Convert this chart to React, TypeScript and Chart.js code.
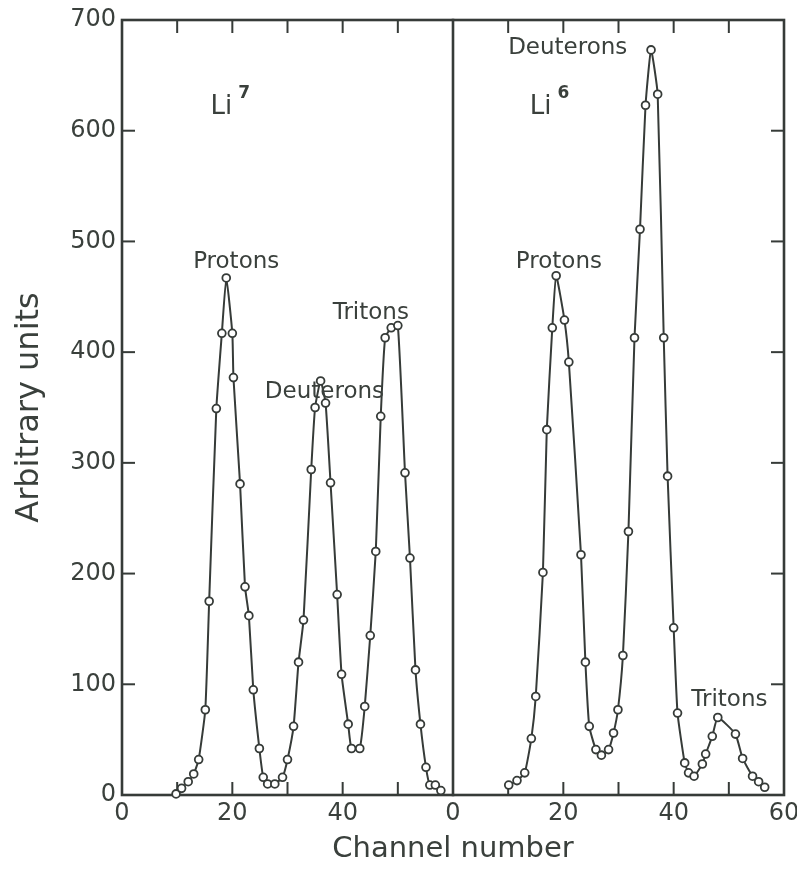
import React, { useEffect, useRef } from 'react';
import { Chart, registerables } from 'chart.js';

Chart.register(...registerables);

// ---- data ----
const PANEL_WIDTH = 60; // each panel spans channels 0..60

const li7Channels = [9.8, 10.8, 12.0, 13.0, 13.9, 15.1, 15.8, 17.1, 18.1, 18.9, 20.0, 20.2, 21.4, 22.3, 23.0, 23.8, 24.9, 25.6, 26.4, 27.7, 29.1, 30.0, 31.1, 32.0, 32.9, 34.3, 35.0, 36.0, 36.9, 37.8, 39.0, 39.8, 41.0, 41.6, 43.1, 44.0, 45.0, 46.0, 46.9, 47.7, 48.8, 50.0, 51.3, 52.2, 53.2, 54.1, 55.1, 55.8, 56.8, 57.8];
const li7Counts = [1, 6, 12, 19, 32, 77, 175, 349, 417, 467, 417, 377, 281, 188, 162, 95, 42, 16, 10, 10, 16, 32, 62, 120, 158, 294, 350, 374, 354, 282, 181, 109, 64, 42, 42, 80, 144, 220, 342, 413, 422, 424, 291, 214, 113, 64, 25, 9, 9, 4];

const li6Channels = [10.1, 11.6, 13.0, 14.2, 15.0, 16.3, 17.0, 18.0, 18.7, 20.2, 21.0, 23.2, 24.0, 24.7, 25.9, 26.9, 28.2, 29.1, 29.9, 30.8, 31.8, 32.9, 33.9, 34.9, 35.9, 37.1, 38.2, 38.9, 40.0, 40.7, 42.0, 42.7, 43.7, 45.2, 45.8, 47.0, 48.0, 51.2, 52.5, 54.3, 55.4, 56.5];
const li6Counts = [9, 13, 20, 51, 89, 201, 330, 422, 469, 429, 391, 217, 120, 62, 41, 36, 41, 56, 77, 126, 238, 413, 511, 623, 673, 633, 413, 288, 151, 74, 29, 20, 17, 28, 37, 53, 70, 55, 33, 17, 12, 7];

const channelTicks = [0, 10, 20, 30, 40, 50, 60];
const channelTickLabels = ['0', '', '20', '', '40', '', '60'];
const countTicks = [0, 100, 200, 300, 400, 500, 600, 700];

const peakLabels = ['Protons', 'Deuterons', 'Tritons', 'Deuterons', 'Protons', 'Tritons'];
const peakLabelX = [20.7, 36.7, 45.1, 80.8, 79.2, 110.1];
const peakLabelY = [481, 364, 435, 675, 481, 86];

const isotopeSymbols = ['Li', 'Li'];
const isotopeMasses = ['7', '6'];
const isotopeX = [18.0, 75.9];
const isotopeY = [621, 621];

const xTitle = 'Channel number';
const yTitle = 'Arbitrary units';

// ---- styles ----
const INK = '#363b38';
const TEXT = '#3a403c';
const FONT = '"DejaVu Sans", "Liberation Sans", sans-serif';
const TICK_LEN = 13;

const decorPlugin = {
  id: 'decor',
  beforeDatasetsDraw(chart: any) {
    const { ctx, chartArea: a, scales } = chart;
    const x = scales.x;
    const y = scales.y;
    const line = (x1: number, y1: number, x2: number, y2: number) => {
      ctx.beginPath();
      ctx.moveTo(x1, y1);
      ctx.lineTo(x2, y2);
      ctx.stroke();
    };
    ctx.save();
    ctx.strokeStyle = INK;
    ctx.lineCap = 'square';
    ctx.lineWidth = 2.6;
    ctx.strokeRect(a.left, a.top, a.right - a.left, a.bottom - a.top);
    const xm = x.getPixelForValue(PANEL_WIDTH);
    line(xm, a.top, xm, a.bottom);
    ctx.lineWidth = 2;
    ctx.lineCap = 'butt';
    [0, PANEL_WIDTH].forEach((off) => {
      channelTicks.slice(1, -1).forEach((v) => {
        const px = x.getPixelForValue(v + off);
        line(px, a.top, px, a.top + TICK_LEN);
        line(px, a.bottom, px, a.bottom - TICK_LEN);
      });
    });
    countTicks.slice(1, -1).forEach((v) => {
      const py = y.getPixelForValue(v);
      line(a.left, py, a.left + TICK_LEN, py);
      line(a.right, py, a.right - TICK_LEN, py);
    });
    ctx.restore();
  },
  afterDatasetsDraw(chart: any) {
    const { ctx, scales } = chart;
    const x = scales.x;
    const y = scales.y;
    ctx.save();
    ctx.fillStyle = TEXT;
    ctx.textAlign = 'center';
    ctx.textBaseline = 'middle';
    ctx.font = `23px ${FONT}`;
    peakLabels.forEach((t, i) => {
      ctx.fillText(t, x.getPixelForValue(peakLabelX[i]), y.getPixelForValue(peakLabelY[i]));
    });
    isotopeSymbols.forEach((s, i) => {
      const cx = x.getPixelForValue(isotopeX[i]);
      const cy = y.getPixelForValue(isotopeY[i]);
      ctx.font = `26px ${FONT}`;
      ctx.textAlign = 'center';
      ctx.fillText(s, cx, cy);
      const w = ctx.measureText(s).width;
      ctx.font = `bold 17px ${FONT}`;
      ctx.textAlign = 'left';
      ctx.fillText(isotopeMasses[i], cx + w / 2 + 6, cy - 14);
    });
    ctx.restore();
  },
};

export default function App() {
  const canvasRef = useRef<HTMLCanvasElement | null>(null);

  useEffect(() => {
    document.body.style.margin = '0';
    document.body.style.background = '#ffffff';
    const canvas = canvasRef.current;
    if (!canvas) return;

    const li7Data = li7Channels.map((c, i) => ({ x: c, y: li7Counts[i] }));
    const li6Data = li6Channels.map((c, i) => ({ x: c + PANEL_WIDTH, y: li6Counts[i] }));

    const common = {
      borderColor: INK,
      borderWidth: 2,
      pointRadius: 3.9,
      pointBorderWidth: 1.8,
      pointBackgroundColor: '#ffffff',
      pointBorderColor: INK,
      tension: 0.15,
      fill: false,
      clip: false as any,
    };

    const allTicks = [
      ...channelTicks.map((v, i) => ({ value: v, label: channelTickLabels[i] })),
      ...channelTicks.slice(1).map((v, i) => ({ value: v + PANEL_WIDTH, label: channelTickLabels[i + 1] })),
    ];
    // the boundary between the panels is channel 60 of Li7 and channel 0 of Li6
    allTicks[channelTicks.length - 1].label = channelTickLabels[0];

    const chart = new Chart(canvas, {
      type: 'line',
      data: {
        datasets: [
          { label: 'Li7', data: li7Data, ...common },
          { label: 'Li6', data: li6Data, ...common },
        ],
      },
      options: {
        animation: false,
        responsive: false,
        devicePixelRatio: 1,
        layout: { padding: { top: 20, right: 13, left: 0, bottom: 0 } },
        plugins: { legend: { display: false }, tooltip: { enabled: false } },
        scales: {
          x: {
            type: 'linear',
            min: 0,
            max: PANEL_WIDTH * 2,
            afterFit: (s: any) => { s.height = 75; s.paddingRight = 0; s.paddingLeft = 0; },
            afterBuildTicks: (s: any) => {
              s.ticks = allTicks.map((t) => ({ value: t.value }));
            },
            grid: { display: false, drawTicks: false },
            border: { display: false },
            ticks: {
              autoSkip: false,
              maxRotation: 0,
              padding: 4,
              color: TEXT,
              font: { family: FONT, size: 24 },
              callback: (v: any) => {
                const t = allTicks.find((k) => k.value === v);
                return t ? t.label : '';
              },
            },
            title: {
              display: true,
              text: xTitle,
              color: TEXT,
              font: { family: FONT, size: 29 },
              padding: { top: 0, bottom: 3 },
            },
          },
          y: {
            type: 'linear',
            min: 0,
            max: 700,
            afterFit: (s: any) => { s.width = 122; s.paddingTop = 0; s.paddingBottom = 0; },
            afterBuildTicks: (s: any) => {
              s.ticks = countTicks.map((v) => ({ value: v }));
            },
            grid: { display: false, drawTicks: false },
            border: { display: false },
            ticks: {
              padding: 6,
              color: TEXT,
              font: { family: FONT, size: 24 },
            },
            title: {
              display: true,
              text: yTitle,
              color: TEXT,
              font: { family: FONT, size: 32 },
              padding: { top: 10, bottom: 0 },
            },
          },
        },
      },
      plugins: [decorPlugin],
    } as any);

    return () => chart.destroy();
  }, []);

  return <canvas ref={canvasRef} width={797} height={870} style={{ display: 'block', width: 797, height: 870 }} />;
}
